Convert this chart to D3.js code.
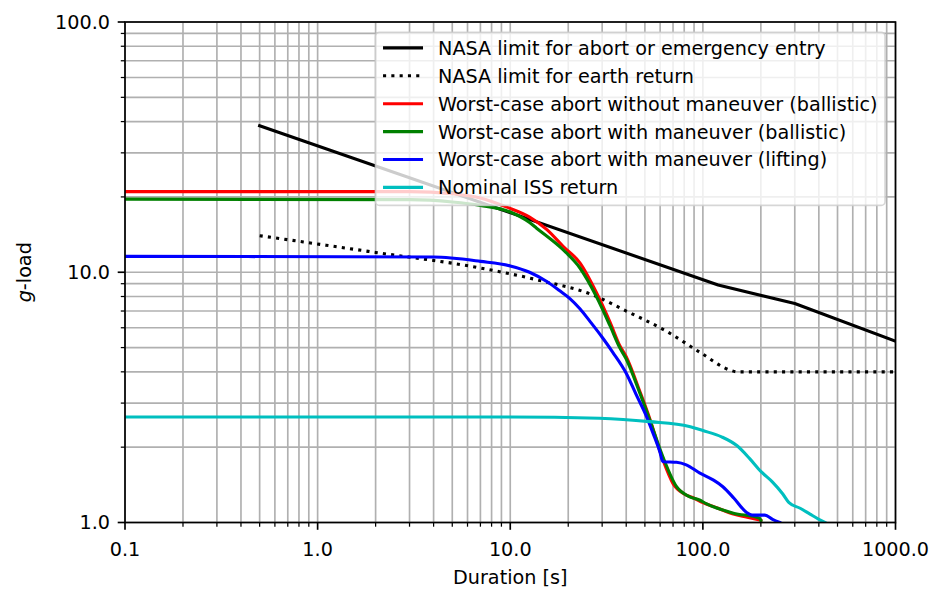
<!DOCTYPE html>
<html>
<head>
<meta charset="utf-8">
<script src="https://cdn.jsdelivr.net/npm/d3@7"></script>
<style>
  body { margin: 0; background: #fff; }
  svg { display: block; font-family: "DejaVu Sans", sans-serif; }
</style>
</head>
<body>
<script>
// Tick labels
const xTicks = [0.1, 1, 10, 100, 1000];
const xTickLabels = ["0.1", "1.0", "10.0", "100.0", "1000.0"];
const yTicks = [1, 10, 100];
const yTickLabels = ["1.0", "10.0", "100.0"];

// Series: duration [s] and g-load
const abortLimitT = [0.5, 120, 300, 1000];
const abortLimitG = [38.5, 8.9, 7.5, 5.3];

const returnLimitT = [0.5, 2, 7, 14, 27, 40, 65, 96, 140, 150, 1000];
const returnLimitG = [14.0, 12.0, 10.4, 9.3, 8.1, 7.0, 5.8, 4.8, 4.05, 4.0, 4.0];

const noManT = [0.1, 3, 5, 7, 9.6, 12.6, 15.5, 18.8, 23, 28, 33, 37, 40, 47, 53, 62, 70, 80, 90, 100, 120, 144, 170, 200];
const noManG = [21.0, 21.0, 20.6, 19.8, 18.2, 16.6, 14.8, 12.7, 10.9, 8.3, 6.3, 5.1, 4.6, 3.35, 2.6, 1.78, 1.43, 1.30, 1.25, 1.2, 1.14, 1.08, 1.05, 1.02];

const manBalT = [0.1, 3, 5, 7, 10, 12.6, 13.7, 18.8, 23, 28, 33, 37, 40, 47, 53, 62, 73, 85, 96, 104, 144, 197, 200];
const manBalG = [19.6, 19.5, 19.1, 18.5, 17.4, 15.8, 15.0, 12.3, 10.4, 8.0, 6.1, 5.0, 4.5, 3.3, 2.57, 1.83, 1.39, 1.27, 1.23, 1.19, 1.09, 1.04, 1.02];

const manLiftT = [0.1, 4, 7, 10, 12.6, 15.4, 18, 20.4, 23, 26, 30, 34, 40, 45, 51, 56, 60, 61.5, 62.5, 73, 82, 96, 113, 127, 145, 168, 180, 210, 230, 251];
const manLiftG = [11.57, 11.5, 11.05, 10.6, 10.0, 9.2, 8.45, 7.85, 7.15, 6.35, 5.5, 4.8, 3.95, 3.25, 2.65, 2.2, 1.9, 1.77, 1.75, 1.74, 1.70, 1.58, 1.48, 1.39, 1.25, 1.1, 1.07, 1.07, 1.03, 1.0];

const issT = [0.1, 10, 29, 53, 85, 100, 125, 150, 175, 200, 230, 260, 280, 320, 360, 400, 430];
const issG = [2.64, 2.64, 2.61, 2.53, 2.42, 2.33, 2.2, 2.03, 1.8, 1.6, 1.45, 1.3, 1.2, 1.14, 1.08, 1.03, 1.0];

const series = [
    { label: "NASA limit for abort or emergency entry", t: abortLimitT, g: abortLimitG, color: "#000000", dash: null, curve: d3.curveLinear },
    { label: "NASA limit for earth return", t: returnLimitT, g: returnLimitG, color: "#000000", dash: "3.1,5.2", curve: d3.curveMonotoneX },
    { label: "Worst-case abort without maneuver (ballistic)", t: noManT, g: noManG, color: "#ff0000", dash: null, curve: d3.curveMonotoneX },
    { label: "Worst-case abort with maneuver (ballistic)", t: manBalT, g: manBalG, color: "#008000", dash: null, curve: d3.curveMonotoneX },
    { label: "Worst-case abort with maneuver (lifting)", t: manLiftT, g: manLiftG, color: "#0000ff", dash: null, curve: d3.curveMonotoneX },
    { label: "Nominal ISS return", t: issT, g: issG, color: "#00bfbf", dash: null, curve: d3.curveMonotoneX }
];

const width = 937, height = 592;
const fs = 19.2;
const plot = { left: 125, right: 895.5, top: 22, bottom: 522.5 };

const svg = d3.select("body").append("svg")
    .attr("width", width)
    .attr("height", height);

const x = d3.scaleLog().domain([0.1, 1000]).range([plot.left, plot.right]);
const y = d3.scaleLog().domain([1, 100]).range([plot.bottom, plot.top]);

// minor + major positions
const xAll = x.ticks();
const yAll = y.ticks();

// Grid (both major and minor)
const grid = svg.append("g").attr("stroke", "#b0b0b0").attr("stroke-width", 1.67);
grid.selectAll(".gx").data(xAll).enter().append("line")
    .attr("x1", d => x(d)).attr("x2", d => x(d))
    .attr("y1", plot.top).attr("y2", plot.bottom);
grid.selectAll(".gy").data(yAll).enter().append("line")
    .attr("y1", d => y(d)).attr("y2", d => y(d))
    .attr("x1", plot.left).attr("x2", plot.right);

// Clip
svg.append("defs").append("clipPath").attr("id", "clip")
    .append("rect")
    .attr("x", plot.left).attr("y", plot.top)
    .attr("width", plot.right - plot.left).attr("height", plot.bottom - plot.top);

const lines = svg.append("g").attr("clip-path", "url(#clip)");
series.forEach(s => {
    const pts = s.t.map((t, i) => [t, s.g[i]]);
    const line = d3.line().x(d => x(d[0])).y(d => y(d[1])).curve(s.curve);
    lines.append("path")
        .attr("d", line(pts))
        .attr("fill", "none")
        .attr("stroke", s.color)
        .attr("stroke-width", 3.1)
        .attr("stroke-dasharray", s.dash)
        .attr("stroke-linejoin", "round")
        .attr("stroke-linecap", s.dash ? "butt" : "square");
});

// Ticks
const isMajor = v => xTicks.some(m => Math.abs(Math.log10(v / m)) < 1e-6);
const isMajorY = v => yTicks.some(m => Math.abs(Math.log10(v / m)) < 1e-6);

const axes = svg.append("g").attr("stroke", "#000");
axes.selectAll(".tx").data(xAll).enter().append("line")
    .attr("x1", d => x(d)).attr("x2", d => x(d))
    .attr("y1", plot.bottom)
    .attr("y2", d => plot.bottom + (isMajor(d) ? 7.3 : 4.2))
    .attr("stroke-width", d => isMajor(d) ? 1.67 : 1.25);
axes.selectAll(".ty").data(yAll).enter().append("line")
    .attr("y1", d => y(d)).attr("y2", d => y(d))
    .attr("x1", plot.left)
    .attr("x2", d => plot.left - (isMajorY(d) ? 7.3 : 4.2))
    .attr("stroke-width", d => isMajorY(d) ? 1.67 : 1.25);

svg.append("g").selectAll("text").data(xTicks).enter().append("text")
    .attr("x", d => x(d))
    .attr("y", 556)
    .attr("text-anchor", "middle")
    .attr("font-size", fs)
    .text((d, i) => xTickLabels[i]);

svg.append("g").selectAll("text").data(yTicks).enter().append("text")
    .attr("x", plot.left - 15)
    .attr("y", d => y(d))
    .attr("dy", "0.36em")
    .attr("text-anchor", "end")
    .attr("font-size", fs)
    .text((d, i) => yTickLabels[i]);

// Axis labels
svg.append("text")
    .attr("x", (plot.left + plot.right) / 2)
    .attr("y", 584)
    .attr("text-anchor", "middle")
    .attr("font-size", fs)
    .text("Duration [s]");

const yl = svg.append("text")
    .attr("transform", `translate(31,${(plot.top + plot.bottom) / 2}) rotate(-90)`)
    .attr("text-anchor", "middle")
    .attr("font-size", fs);
yl.append("tspan").attr("font-style", "italic").text("g");
yl.append("tspan").text("-load");

// Legend
const pad = 7.5, handleLen = 40, handlePad = 15, rowH = 27.9;
const legend = svg.append("g");
const legendBox = legend.append("rect")
    .attr("rx", 4).attr("ry", 4)
    .attr("fill", "#ffffff").attr("fill-opacity", 0.8)
    .attr("stroke", "#cccccc").attr("stroke-opacity", 0.8)
    .attr("stroke-width", 1.67);
const items = legend.selectAll(".item").data(series).enter().append("g");
const labels = items.append("text")
    .attr("font-size", fs)
    .attr("dy", "0.36em")
    .text(d => d.label);
let maxW = 0;
labels.each(function () { maxW = Math.max(maxW, this.getComputedTextLength()); });
const boxW = pad * 2 + handleLen + handlePad + maxW;
const boxH = 173;
const boxRight = plot.right - 10.4;
const boxLeft = boxRight - boxW;
const boxTop = plot.top + 10.4;
legendBox.attr("x", boxLeft).attr("y", boxTop).attr("width", boxW).attr("height", boxH);
items.attr("transform", (d, i) => `translate(${boxLeft + pad},${boxTop + 15.5 + i * rowH})`);
items.append("line")
    .attr("x1", 0).attr("x2", handleLen)
    .attr("stroke", d => d.color)
    .attr("stroke-width", 3.1)
    .attr("stroke-dasharray", d => d.dash);
labels.attr("x", handleLen + handlePad);

// Spines
svg.append("rect")
    .attr("x", plot.left).attr("y", plot.top)
    .attr("width", plot.right - plot.left).attr("height", plot.bottom - plot.top)
    .attr("fill", "none").attr("stroke", "#000").attr("stroke-width", 1.67);
</script>
</body>
</html>
